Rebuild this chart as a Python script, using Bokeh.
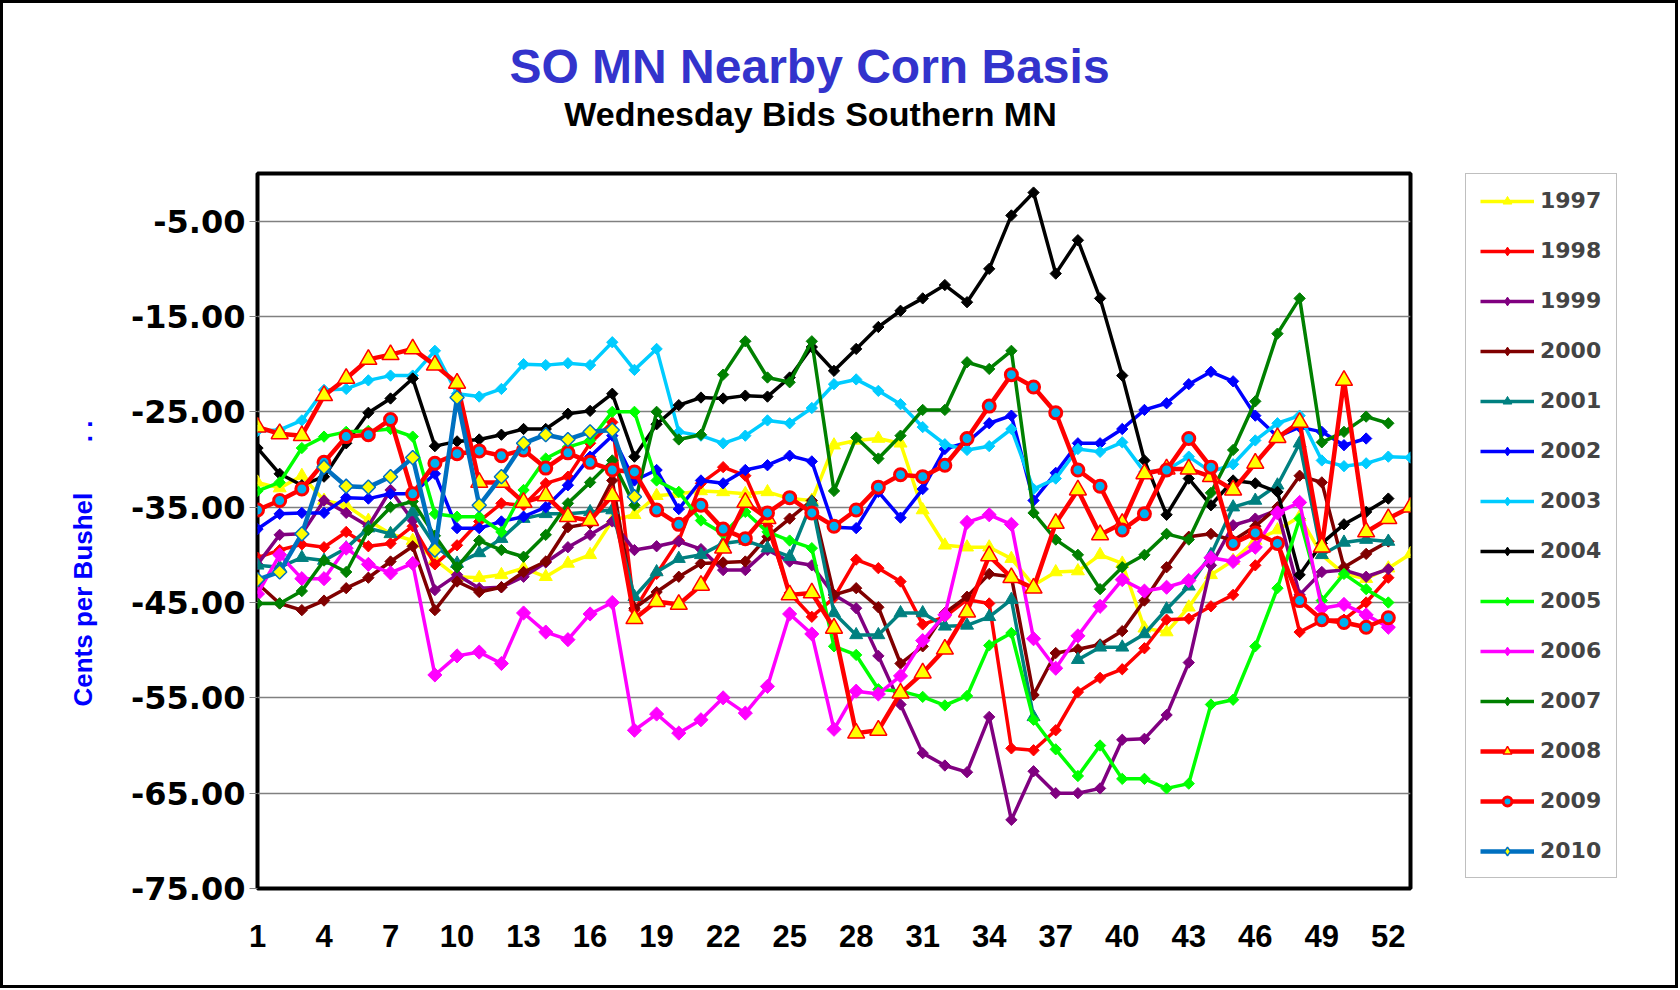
import math
from bokeh.plotting import figure
from bokeh.layouts import column, row
from bokeh.models import FixedTicker, NumeralTickFormatter, Legend, LegendItem
from bokeh.core.properties import value
from bokeh.embed import file_html
from bokeh.resources import INLINE

nan = float("nan")
weeks = list(range(1, 54))
x_ticks = [1, 4, 7, 10, 13, 16, 19, 22, 25, 28, 31, 34, 37, 40, 43, 46, 49, 52]
y_ticks = [-75, -65, -55, -45, -35, -25, -15, -5]

y1997 = [-32.4, -33.0, -31.7, -34.3, -34.8, -36.4, -37.8, -38.5, -40.5, -42.3, -42.4, -42.1, -41.4, -42.3, -40.9, -40.0, -36.4, -35.8, -33.8, -33.6,
         -33.3, -33.4, -33.6, -33.4, -34.1, -34.3, -28.5, -28.0, -27.8, -28.3, -35.3, -39.0, -39.2, -39.2, -40.4, -43.2, -41.8, -41.7, -40.0, -40.9,
         -47.7, -48.1, -45.5, -42.1, -40.6, -38.5, -37.4, -36.0, -40.0, -42.0, -42.5, -41.4, -39.9]
y1998 = [-40.3, -39.5, -38.9, -39.2, -37.6, -39.1, -38.8, -37.0, -41.0, -39.0, -36.5, -34.6, -34.8, -32.5, -31.8, -28.3, -26.1, -45.8, -42.0, -38.5,
         -32.5, -30.8, -31.7, -37.0, -44.0, -46.5, -44.5, -40.5, -41.4, -42.8, -47.3, -46.5, -44.7, -45.1, -60.3, -60.5, -58.4, -54.4, -52.9, -52.0,
         -49.8, -46.8, -46.7, -45.4, -44.2, -41.1, -38.6, -48.1, -46.9, -46.8, -45.0, -42.4, nan]
y1999 = [-41.0, -37.9, -37.8, -34.3, -35.6, -37.0, -33.2, -36.4, -43.7, -42.1, -43.5, -43.4, -42.3, -40.8, -39.2, -37.9, -36.5, -39.5, -39.1, -38.6,
         -39.4, -41.6, -41.6, -39.5, -40.7, -41.1, -44.2, -45.6, -50.6, -55.7, -60.8, -62.1, -62.8, -57.0, -67.8, -62.7, -65.0, -65.0, -64.5, -59.4,
         -59.3, -56.8, -51.3, -41.1, -36.9, -36.2, -35.3, -44.2, -41.8, -41.6, -42.3, -41.5, nan]
y2000 = [-43.0, -45.1, -45.8, -44.8, -43.5, -42.4, -40.7, -39.1, -45.8, -42.8, -43.9, -43.4, -41.8, -40.7, -37.1, -36.7, -32.2, -45.6, -43.9, -42.3,
         -40.9, -40.8, -40.7, -38.1, -36.2, -34.3, -44.2, -43.5, -45.5, -51.4, -49.6, -46.1, -44.4, -42.0, -42.3, -54.7, -50.3, -49.9, -49.4, -48.0,
         -44.8, -41.3, -38.1, -37.8, -38.5, -37.0, -35.0, -31.7, -32.4, -41.3, -39.9, -38.6, nan]
y2001 = [-41.1, -41.3, -40.3, -40.6, -39.3, -37.2, -37.8, -35.5, -39.0, -40.9, -39.8, -38.3, -36.2, -35.7, -35.7, -35.5, -35.3, -44.4, -41.8, -40.4,
         -40.0, -38.8, -38.5, -39.3, -40.2, -34.5, -46.1, -48.4, -48.4, -46.1, -46.1, -47.5, -47.4, -46.5, -44.7, -57.0, nan, -51.0, -49.7, -49.7,
         -48.3, -45.7, -43.3, -40.0, -35.0, -34.3, -32.7, -28.3, -40.0, -38.7, -38.4, -38.6, nan]
y2002 = [-37.3, -35.7, -35.6, -35.6, -34.0, -34.1, -33.6, -33.6, -31.5, -37.2, -37.2, -36.5, -36.0, -35.0, -32.7, -29.7, -27.5, -32.2, -31.1, -35.2,
         -32.2, -32.5, -31.1, -30.6, -29.6, -30.2, -37.1, -37.2, -33.4, -36.1, -33.1, -28.9, -28.2, -26.2, -25.4, -34.3, -31.4, -28.3, -28.3, -26.8,
         -24.8, -24.1, -22.1, -20.8, -21.8, -25.4, -27.6, -26.6, -27.1, -28.5, -27.8, nan, nan]
y2003 = [-27.0, -26.9, -25.9, -22.7, -22.6, -21.7, -21.2, -21.2, -18.6, -23.1, -23.4, -22.6, -20.0, -20.1, -19.9, -20.1, -17.7, -20.6, -18.4, -27.1,
         -27.5, -28.3, -27.5, -25.9, -26.2, -24.6, -22.1, -21.6, -22.8, -24.2, -26.6, -28.4, -29.0, -28.6, -26.8, -33.1, -32.0, -28.9, -29.2, -28.2,
         -31.3, -31.1, -29.7, -31.3, -30.5, -28.0, -26.2, -25.4, -30.1, -30.7, -30.4, -29.7, -29.8]
y2004 = [-28.8, -31.5, -32.7, -31.8, -28.3, -25.1, -23.6, -21.5, -28.6, -28.1, -27.9, -27.4, -26.8, -26.8, -25.2, -24.9, -23.1, -29.7, -26.3, -24.3,
         -23.5, -23.6, -23.3, -23.4, -21.4, -18.2, -20.7, -18.4, -16.1, -14.4, -13.1, -11.7, -13.5, -10.0, -4.4, -2.0, -10.5, -7.0, -13.1, -21.2,
         -30.1, -35.8, -32.0, -34.8, -32.2, -32.5, -33.4, -42.1, -38.8, -36.8, -35.5, -34.1, nan]
y2005 = [-33.3, -32.4, -28.8, -27.6, -27.1, -27.0, -26.8, -27.6, -35.7, -36.0, -36.0, -37.6, -33.2, -29.9, -28.7, -28.0, -25.0, -25.0, -32.2, -33.4,
         -36.4, -37.8, -35.5, -37.6, -38.5, -39.3, -49.6, -50.5, -54.1, -54.3, -54.9, -55.8, -54.8, -49.5, -48.2, -57.3, -60.4, -63.2, -60.0, -63.5,
         -63.5, -64.5, -64.0, -55.7, -55.2, -49.6, -43.5, -36.2, -44.8, -42.0, -43.6, -45.0, nan]
y2006 = [-44.1, -40.0, -42.5, -42.5, -39.3, -41.0, -41.9, -40.9, -52.6, -50.6, -50.2, -51.4, -46.1, -48.1, -48.9, -46.2, -45.0, -58.4, -56.7, -58.7,
         -57.3, -55.0, -56.6, -53.8, -46.2, -48.3, -58.3, -54.3, -54.6, -52.7, -49.0, -46.3, -36.6, -35.8, -36.8, -48.8, -51.9, -48.5, -45.4, -42.6,
         -43.8, -43.4, -42.7, -40.3, -40.7, -39.2, -35.6, -34.5, -45.6, -45.2, -46.3, -47.6, nan]
y2007 = [-45.1, -45.1, -43.8, -40.6, -41.8, -37.4, -35.0, -34.4, -38.0, -41.3, -38.5, -39.5, -40.2, -37.9, -34.6, -32.4, -30.1, -34.8, -25.0, -27.9,
         -27.4, -21.1, -17.6, -21.4, -21.9, -17.6, -33.3, -27.7, -29.9, -27.5, -24.8, -24.8, -19.8, -20.5, -18.6, -35.6, -38.4, -40.0, -43.6, -41.3,
         -40.0, -37.8, -38.4, -33.5, -29.0, -23.9, -16.8, -13.1, -28.2, -27.1, -25.5, -26.2, nan]
y2008 = [-26.6, -27.3, -27.5, -23.3, -21.5, -19.5, -19.0, -18.4, -20.1, -22.0, -32.4, -32.4, -34.5, -33.8, -36.0, -36.4, -33.8, -46.7, -44.9, -45.2,
         -43.2, -39.3, -34.5, -36.2, -44.2, -44.0, -47.7, -58.7, -58.4, -54.5, -52.4, -49.9, -46.0, -40.1, -42.4, -43.5, -36.7, -33.2, -37.9, -36.7,
         -31.5, -31.0, -31.0, -31.8, -33.2, -30.4, -27.7, -26.1, -39.2, -21.7, -37.6, -36.2, -35.0]
y2009 = [-35.3, -34.3, -33.1, -30.3, -27.6, -27.4, -25.8, -33.6, -30.4, -29.4, -29.1, -29.6, -29.0, -30.9, -29.3, -30.3, -31.1, -31.3, -35.3, -36.8,
         -34.8, -37.3, -38.3, -35.6, -34.0, -35.6, -37.0, -35.3, -32.9, -31.6, -31.8, -30.6, -27.8, -24.4, -21.1, -22.4, -25.1, -31.1, -32.8, -37.4,
         -35.7, -31.1, -27.8, -30.8, -38.8, -37.7, -38.8, -44.8, -46.8, -47.1, -47.6, -46.6, nan]
y2010 = [-42.6, -41.8, -37.8, -30.8, -32.8, -32.9, -31.8, -29.8, -39.5, -23.5, -34.8, -31.8, -28.3, -27.4, -27.9, -27.1, -26.9, -33.9] + [nan] * 35

title_text = "SO MN Nearby Corn Basis"
subtitle_text = "Wednesday Bids Southern MN"
ylabel_text = "Cents per Bushel"

FONT = "Liberation Sans"
NB = "\u00a0"

# ---- title strip ----
top = figure(width=1672, height=130, x_range=(0, 1672), y_range=(130, 0),
             output_backend="svg", toolbar_location=None, min_border=0,
             x_axis_location=None, y_axis_location=None)
top.outline_line_color = None
top.grid.grid_line_color = None
top.background_fill_color = "white"
top.border_fill_color = "white"
top.text(x=[806], y=[63], text=[title_text], text_font=value(FONT), text_font_style="bold",
         text_font_size="48px", text_color="#3333CC", text_align="center", text_baseline="middle")
top.text(x=[807], y=[110], text=[subtitle_text], text_font=value(FONT), text_font_style="bold",
         text_font_size="34px", text_color="black", text_align="center", text_baseline="middle")

# ---- main chart ----
p = figure(width=1410, height=852, x_range=(1, 53), y_range=(-75, 0),
           output_backend="svg", toolbar_location=None,
           min_border_left=254, min_border_right=3, min_border_top=40, min_border_bottom=97)
p.background_fill_color = "white"
p.border_fill_color = "white"
p.outline_line_color = "black"
p.outline_line_width = 4

p.xaxis.ticker = FixedTicker(ticks=x_ticks)
p.yaxis.ticker = FixedTicker(ticks=y_ticks)
p.yaxis.formatter = NumeralTickFormatter(format="0.00")
for ax in (p.xaxis[0], p.yaxis[0]):
    ax.axis_line_color = None
    ax.minor_tick_line_color = None
    ax.major_label_text_font_style = "bold"
    ax.major_label_text_color = "black"
p.xaxis.major_tick_line_color = None
p.xaxis.major_label_text_font = FONT
p.xaxis.major_label_text_font_size = "31px"
p.xaxis.major_label_standoff = 30
p.yaxis.major_label_text_font = "DejaVu Sans"
p.yaxis.major_label_text_font_size = "32px"
p.yaxis.major_tick_line_color = "#808080"
p.yaxis.major_tick_out = 8
p.yaxis.major_tick_in = 0
p.yaxis.major_label_standoff = 4
p.yaxis.axis_label = ylabel_text + NB * 7 + ". ." + NB * 9
p.yaxis.axis_label_text_font = FONT
p.yaxis.axis_label_text_font_style = "bold"
p.yaxis.axis_label_text_font_size = "26px"
p.yaxis.axis_label_text_color = "#0000FF"
p.yaxis.axis_label_standoff = 30

p.xgrid.grid_line_color = None
p.ygrid.ticker = FixedTicker(ticks=y_ticks)
p.ygrid.grid_line_color = "#808080"
p.ygrid.grid_line_width = 1.5

# ---- legend strip (its frame is aligned with the chart frame) ----
p2 = figure(width=262, height=852, x_range=(100, 101), y_range=(0, 1),
            output_backend="svg", toolbar_location=None,
            min_border_left=52, min_border_right=0, min_border_top=40, min_border_bottom=97,
            x_axis_location=None, y_axis_location=None)
p2.outline_line_color = None
p2.grid.grid_line_color = None
p2.background_fill_color = "white"
p2.border_fill_color = "white"

D = math.pi / 4
series = [
    ("1997", y1997, "#FFFF00", 3.5, "triangle", 13, "#FFFF00", "#FFFF00", 1, 0),
    ("1998", y1998, "#FF0000", 3.5, "square", 8, "#FF0000", "#FF0000", 1, D),
    ("1999", y1999, "#800080", 3.5, "square", 8, "#800080", "#800080", 1, D),
    ("2000", y2000, "#800000", 3.5, "square", 8, "#800000", "#800000", 1, D),
    ("2001", y2001, "#008080", 3.5, "triangle", 13, "#008080", "#008080", 1, 0),
    ("2002", y2002, "#0000FF", 3.5, "square", 8, "#0000FF", "#0000FF", 1, D),
    ("2003", y2003, "#00CCFF", 3.5, "square", 8, "#00CCFF", "#00CCFF", 1, D),
    ("2004", y2004, "#000000", 3.5, "square", 8, "#000000", "#000000", 1, D),
    ("2005", y2005, "#00FF00", 3.5, "square", 8, "#00FF00", "#00FF00", 1, D),
    ("2006", y2006, "#FF00FF", 3.5, "square", 10, "#FF00FF", "#FF00FF", 1, D),
    ("2007", y2007, "#008000", 3.5, "square", 8, "#008000", "#008000", 1, D),
    ("2008", y2008, "#FF0000", 4.5, "triangle", 17, "#FFFF00", "#FF0000", 1.5, 0),
    ("2009", y2009, "#FF0000", 4.5, "circle", 12, "#00B0F0", "#FF0000", 3, 0),
    ("2010", y2010, "#0070C0", 4.5, "square", 10, "#FFFF00", "#0070C0", 1.5, D),
]

items = []
for name, ys, lc, lw, mk, ms, fc, mlc, mlw, ang in series:
    p.line(weeks, ys, line_color=lc, line_width=lw)
    p.scatter(weeks, ys, marker=mk, size=ms, fill_color=fc, line_color=mlc,
              line_width=mlw, angle=ang)
    # legend proxies (same series, lying outside the legend strip's visible range)
    lmk, lms = (("diamond", int(ms * 1.5)) if mk == "square" else (mk, ms))
    l1 = p2.line(weeks, ys, line_color=lc, line_width=lw)
    l2 = p2.scatter(weeks, ys, marker=lmk, size=lms, fill_color=fc, line_color=mlc,
                    line_width=mlw)
    items.append(LegendItem(label=name, renderers=[l1, l2]))

legend = Legend(items=items, location="top_left", orientation="vertical", ncols=1)
legend.label_text_font = "DejaVu Sans"
legend.label_text_font_style = "bold"
legend.label_text_font_size = "22px"
legend.label_height = 22
legend.label_width = 62
legend.glyph_height = 22
legend.glyph_width = 54
legend.label_standoff = 6
legend.spacing = 25
legend.padding = 14
legend.margin = 0
legend.border_line_color = "#808080"
legend.border_line_width = 1
legend.background_fill_color = "white"
p2.add_layout(legend, "center")

layout = column(top, row(p, p2, spacing=0), spacing=0, styles={"border": "3px solid black"})
open("out.html", "w").write(file_html(layout, INLINE))
